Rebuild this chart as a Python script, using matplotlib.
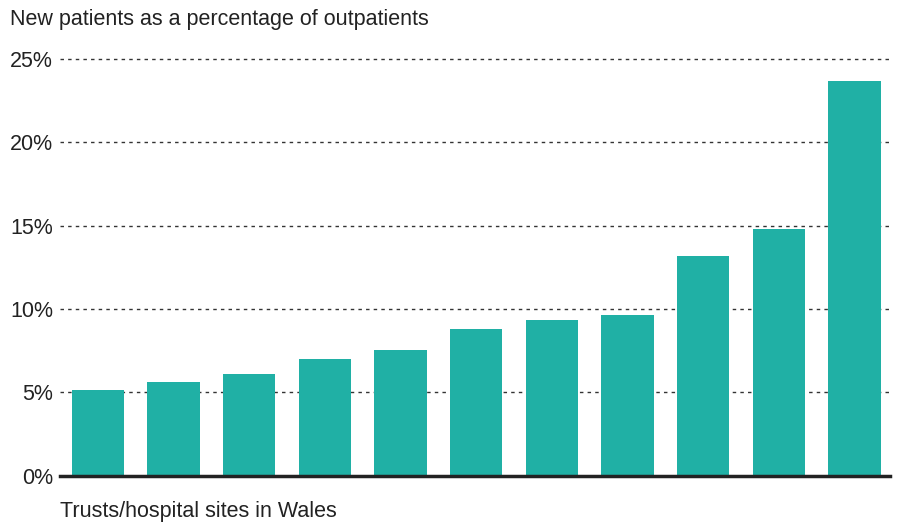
import matplotlib.pyplot as plt
import numpy as np

# Share of new patients among outpatients, per site (sorted ascending)
sites = ["Site %d" % i for i in range(1, 12)]
new_patient_pct = [5.13, 5.61, 6.11, 7.01, 7.51, 8.81, 9.31, 9.63, 13.19, 14.8, 23.68]
y_ticks = [0, 5, 10, 15, 20, 25]

plt.rcParams['font.family'] = ['Liberation Sans', 'DejaVu Sans']

fig = plt.figure(figsize=(9.01, 5.22), dpi=100)
ax = fig.add_axes([60 / 901, 1 - 475.5 / 522, 830 / 901, (475.5 - 59) / 522])

x = np.arange(len(sites))
ax.bar(x, new_patient_pct, width=0.69, color='#20b0a5', zorder=3)

ax.set_xlim(-0.5, 10.47)
ax.set_ylim(0, 25)
ax.set_yticks(y_ticks)
ax.set_yticklabels([f"{v}%" for v in y_ticks], fontsize=15.5, color='#222222')
ax.set_xticks([])
ax.tick_params(axis='y', length=0, pad=5)

for v in y_ticks[1:]:
    ax.axhline(v, color='#333333', linewidth=1, linestyle=(0, (2.5, 3)), zorder=1, clip_on=False)

for side in ['top', 'right', 'left']:
    ax.spines[side].set_visible(False)
ax.spines['bottom'].set_linewidth(2.5)
ax.spines['bottom'].set_color('#222222')
ax.spines['bottom'].set_zorder(4)

fig.text(10 / 901, 1 - 20 / 522, "New patients as a percentage of outpatients",
         fontsize=15.5, color='#222222', va='center', ha='left')
fig.text(60 / 901, 1 - 511 / 522, "Trusts/hospital sites in Wales",
         fontsize=15.5, color='#222222', va='center', ha='left')

fig.savefig('out.png', dpi=100)
